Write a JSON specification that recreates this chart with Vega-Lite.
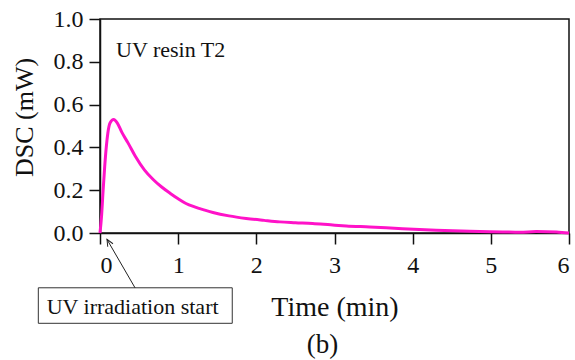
{
  "$schema": "https://vega.github.io/schema/vega-lite/v6.json",
  "autosize": {"type": "none"},
  "padding": {"left": 100, "top": 19, "right": 6, "bottom": 127},
  "width": 469,
  "height": 214,
  "background": "white",
  "config": {
    "font": "Liberation Serif",
    "view": {"stroke": "#111", "strokeWidth": 1.5},
    "axis": {
      "grid": false,
      "domainColor": "#111",
      "domainWidth": 1.5,
      "tickColor": "#111",
      "tickWidth": 1.5,
      "tickSize": 11,
      "labelFont": "Liberation Serif",
      "labelFontSize": 24,
      "labelColor": "#111",
      "titleFont": "Liberation Serif",
      "titleColor": "#111"
    }
  },
  "datasets": {
    "curve": [
      {"t": 0, "v": 0}, {"t": 0.02, "v": 0.08}, {"t": 0.04, "v": 0.2}, {"t": 0.06, "v": 0.31},
      {"t": 0.08, "v": 0.4}, {"t": 0.1, "v": 0.466}, {"t": 0.13, "v": 0.515}, {"t": 0.175, "v": 0.53},
      {"t": 0.22, "v": 0.515}, {"t": 0.28, "v": 0.47}, {"t": 0.36, "v": 0.42}, {"t": 0.45, "v": 0.36},
      {"t": 0.57, "v": 0.294}, {"t": 0.68, "v": 0.25}, {"t": 0.785, "v": 0.216}, {"t": 0.9, "v": 0.185},
      {"t": 1.0, "v": 0.16}, {"t": 1.1, "v": 0.138}, {"t": 1.21, "v": 0.122}, {"t": 1.33, "v": 0.108},
      {"t": 1.445, "v": 0.096}, {"t": 1.65, "v": 0.08}, {"t": 1.87, "v": 0.068}, {"t": 2.1, "v": 0.059},
      {"t": 2.3, "v": 0.052}, {"t": 2.5, "v": 0.048}, {"t": 2.72, "v": 0.044}, {"t": 2.95, "v": 0.038},
      {"t": 3.15, "v": 0.033}, {"t": 3.45, "v": 0.028}, {"t": 3.87, "v": 0.02}, {"t": 4.3, "v": 0.013},
      {"t": 4.73, "v": 0.008}, {"t": 5.15, "v": 0.005}, {"t": 5.37, "v": 0.003}, {"t": 5.58, "v": 0.007},
      {"t": 5.84, "v": 0.005}, {"t": 6.0, "v": 0.0}
    ],
    "leftlabels": [
      {"t": 0.205, "v": 0.824, "label": "UV resin T2"},
      {"t": -0.682, "v": -0.38, "label": "UV irradiation start"}
    ],
    "centerlabels": [
      {"t": 2.846, "v": -0.561, "label": "(b)"}
    ],
    "box": [{"t1": -0.789, "t2": 1.692, "v1": -0.256, "v2": -0.422}],
    "arrow": [{"t1": 0.448, "v1": -0.256, "t2": 0.0896, "v2": -0.03}]
  },
  "layer": [
    {
      "data": {"name": "curve"},
      "mark": {"type": "line", "color": "#ff12c8", "strokeWidth": 3, "interpolate": "monotone", "clip": false},
      "encoding": {
        "x": {
          "field": "t", "type": "quantitative",
          "scale": {"domain": [0, 6], "nice": false},
          "axis": {
            "values": [0, 1, 2, 3, 4, 5, 6], "format": "d", "labelPadding": 9,
            "title": "Time (min)", "titleFontSize": 28, "titleFontWeight": "normal",
            "titleX": 234.5, "titleY": 82, "titleBaseline": "alphabetic", "titleAlign": "center"
          }
        },
        "y": {
          "field": "v", "type": "quantitative",
          "scale": {"domain": [0, 1], "nice": false},
          "axis": {
            "values": [0, 0.2, 0.4, 0.6, 0.8, 1.0], "format": ".1f", "labelPadding": 6,
            "title": "DSC (mW)", "titleFontSize": 26, "titleFontWeight": "normal",
            "titleAngle": -90, "titleX": -76, "titleY": 98, "titleBaseline": "middle", "titleAlign": "center"
          }
        }
      }
    },
    {
      "data": {"name": "box"},
      "mark": {"type": "rect", "fill": "white", "stroke": "#333", "strokeWidth": 1},
      "encoding": {
        "x": {"field": "t1", "type": "quantitative"},
        "x2": {"field": "t2"},
        "y": {"field": "v1", "type": "quantitative"},
        "y2": {"field": "v2"}
      }
    },
    {
      "data": {"name": "arrow"},
      "mark": {"type": "rule", "color": "#222", "strokeWidth": 1},
      "encoding": {
        "x": {"field": "t1", "type": "quantitative"},
        "x2": {"field": "t2"},
        "y": {"field": "v1", "type": "quantitative"},
        "y2": {"field": "v2"}
      }
    },
    {
      "data": {"name": "arrow"},
      "mark": {"type": "point", "shape": "M -0.45 1 L 0 0 L 0.45 1", "filled": false, "stroke": "#222", "strokeWidth": 1, "size": 180, "angle": -30, "opacity": 1},
      "encoding": {
        "x": {"field": "t2", "type": "quantitative"},
        "y": {"field": "v2", "type": "quantitative"}
      }
    },
    {
      "data": {"name": "leftlabels"},
      "mark": {"type": "text", "baseline": "alphabetic", "align": "left", "fontSize": 22, "color": "#111", "font": "Liberation Serif"},
      "encoding": {
        "x": {"field": "t", "type": "quantitative"},
        "y": {"field": "v", "type": "quantitative"},
        "text": {"field": "label"}
      }
    },
    {
      "data": {"name": "centerlabels"},
      "mark": {"type": "text", "baseline": "alphabetic", "align": "center", "fontSize": 27, "color": "#111", "font": "Liberation Serif"},
      "encoding": {
        "x": {"field": "t", "type": "quantitative"},
        "y": {"field": "v", "type": "quantitative"},
        "text": {"field": "label"}
      }
    }
  ]
}
